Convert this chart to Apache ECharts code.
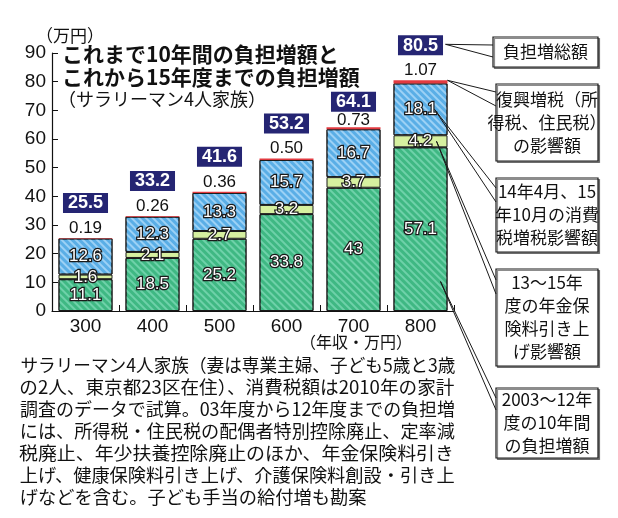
<!DOCTYPE html>
<html><head><meta charset="utf-8">
<script src="https://cdn.jsdelivr.net/npm/echarts@6/dist/echarts.min.js"></script>
<style>html,body{margin:0;padding:0;background:#fff}#c{width:618px;height:518px}</style>
</head><body><div id="c"></div>
<script>
const categories = ['300','400','500','600','700','800'];
const decade = [11.1, 18.5, 25.2, 33.8, 43, 57.1];
const pension = [1.6, 2.1, 2.7, 3.2, 3.7, 4.2];
const consumption = [12.6, 12.3, 13.3, 15.7, 16.7, 18.1];
const reconstruction = [0.19, 0.26, 0.36, 0.50, 0.73, 1.07];
const totals = [25.5, 33.2, 41.6, 53.2, 64.1, 80.5];
const tightLabel = [false, false, false, false, true, false];
const yMin = 0, yMax = 90, yInterval = 10;

const titleLines = ['これまで10年間の負担増額と', 'これから15年度までの負担増額'];
const subTitle = '（サラリーマン4人家族）';
const unitLabel = '（万円）';
const xName = '（年収・万円）';
const noteLines = [
  'サラリーマン4人家族（妻は専業主婦、子ども5歳と3歳',
  'の2人、東京都23区在住）、消費税額は2010年の家計',
  '調査のデータで試算。03年度から12年度までの負担増',
  'には、所得税・住民税の配偶者特別控除廃止、定率減',
  '税廃止、年少扶養控除廃止のほか、年金保険料引き',
  '上げ、健康保険料引き上げ、介護保険料創設・引き上',
  'げなどを含む。子ども手当の給付増も勘案'
];
const calloutTexts = [
  ['負担増総額'],
  ['復興増税（所', '得税、住民税）', 'の影響額'],
  ['14年4月、15', '年10月の消費', '税増税影響額'],
  ['13〜15年', '度の年金保', '険料引き上', 'げ影響額'],
  ['2003〜12年', '度の10年間', 'の負担増額']
];

const JP = '"Noto Sans CJK JP", sans-serif';
const NUM = '"Liberation Sans", Arial, sans-serif';

const chart = echarts.init(document.getElementById('c'));

const segLabel = {
  show: true, position: 'inside', color: '#fff', fontSize: 17, fontFamily: NUM,
  textBorderColor: '#1a1a1a', textBorderWidth: 2.5,
  formatter: p => String(p.value)
};
function hatch(color) {
  return { symbol: 'rect', symbolSize: 1, dashArrayX: [1, 0], dashArrayY: [2, 3], rotation: Math.PI / 4, color: color };
}
const boxStyle = { backgroundColor: '#252573', color: '#fff', fontSize: 18, fontWeight: 'bold', fontFamily: NUM,
                   height: 19, padding: [1, 5, 0, 5] };

chart.setOption({
  animation: false,
  backgroundColor: '#fff',
  grid: { left: 52, right: 164, top: 53, bottom: 207 },
  xAxis: {
    type: 'category', data: categories,
    axisLine: { lineStyle: { color: '#111', width: 1.2 } },
    axisTick: { show: true, inside: true, length: 6, interval: 0, lineStyle: { color: '#111' } },
    axisLabel: { color: '#111', fontSize: 19, fontFamily: NUM, margin: 6 }
  },
  yAxis: {
    type: 'value', min: yMin, max: yMax, interval: yInterval,
    axisLine: { show: true, lineStyle: { color: '#111', width: 1.2 } },
    axisTick: { show: true, inside: true, length: 6, lineStyle: { color: '#111' } },
    splitLine: { show: false },
    axisLabel: { color: '#111', fontSize: 19, fontFamily: NUM, margin: 6 }
  },
  series: [
    { name: '2003〜12年度の10年間の負担増額', type: 'bar', stack: 't', barWidth: 54, data: decade,
      itemStyle: { color: '#3fb883', borderColor: '#1a1a1a', borderWidth: 1, decal: hatch('rgba(150,230,200,0.55)') },
      label: segLabel },
    { name: '年金保険料', type: 'bar', stack: 't', data: pension,
      itemStyle: { color: '#d6f0a0', borderColor: '#1a1a1a', borderWidth: 1 },
      label: segLabel },
    { name: '消費税', type: 'bar', stack: 't', data: consumption,
      itemStyle: { color: '#5aaee6', borderColor: '#1a1a1a', borderWidth: 1, decal: hatch('rgba(200,232,255,0.6)') },
      label: segLabel },
    { name: '復興増税', type: 'bar', stack: 't', data: reconstruction,
      itemStyle: { color: '#e23a40' },
      label: {
        show: true, position: 'top', distance: 0,
        formatter: p => {
          const t = tightLabel[p.dataIndex];
          return '{' + (t ? 'boxT' : 'box') + '|' + totals[p.dataIndex].toFixed(1) + '}\n{' +
                 (t ? 'vT' : 'v') + '|' + p.value.toFixed(2) + '}';
        },
        rich: {
          box: Object.assign({ lineHeight: 30 }, boxStyle),
          boxT: Object.assign({ lineHeight: 23 }, boxStyle),
          v: { color: '#111', fontSize: 17, fontFamily: NUM, lineHeight: 20 },
          vT: { color: '#111', fontSize: 17, fontFamily: NUM, lineHeight: 14 }
        }
      } }
  ]
});

// ---- annotations ----
const g = [];
function txt(x, y, text, font, opt) {
  g.push(Object.assign({ type: 'text', x: x, y: y, silent: true,
    style: { text: text, font: font, fill: '#111', textAlign: 'left', textVerticalAlign: 'middle' } }, opt || {}));
}
txt(36, 36, unitLabel, '17px ' + JP);
txt(62, 54, titleLines[0], 'bold 21px ' + JP);
txt(62, 77, titleLines[1], 'bold 21px ' + JP);
txt(58, 99, subTitle, '18px ' + JP);
txt(300, 342, xName, '16px ' + JP);

// footnote, each line fitted to the column width
const ctx = document.createElement('canvas').getContext('2d');
const noteFont = '18px ' + JP;
ctx.font = noteFont;
let scales = [];
noteLines.forEach((ln, i) => {
  const w = ctx.measureText(ln).width;
  scales.push(435 / w);
});
const avgScale = scales.slice(0, 6).reduce((a, b) => a + b, 0) / 6;
noteLines.forEach((ln, i) => {
  const s = i < 6 ? scales[i] : avgScale;
  txt(20, 365 + i * 22, ln, noteFont, { scaleX: s, originX: 20, originY: 365 + i * 22 });
});

// callout boxes
const boxes = [
  { x: 493, y: 37, w: 105, h: 30 },
  { x: 496, y: 84, w: 102, h: 77 },
  { x: 496, y: 178, w: 102, h: 74 },
  { x: 496, y: 269, w: 102, h: 97 },
  { x: 496, y: 388, w: 102, h: 70 }
];
boxes.forEach((b, i) => {
  g.push({ type: 'rect', silent: true, shape: { x: b.x, y: b.y, width: b.w, height: b.h },
    style: { fill: '#fff', stroke: '#1a1a1a', lineWidth: 1.2, shadowColor: 'rgba(0,0,0,0.45)', shadowOffsetX: 1.5, shadowOffsetY: 1.5 } });
  const lines = calloutTexts[i];
  const lh = 23;
  const y0 = b.y + b.h / 2 - (lines.length - 1) * lh / 2;
  lines.forEach((ln, k) => {
    g.push({ type: 'text', x: b.x + b.w / 2, y: y0 + k * lh, silent: true,
      style: { text: ln, font: '17px ' + JP, fill: '#111', textAlign: 'center', textVerticalAlign: 'middle' } });
  });
});

// leader lines from the 800 bar
const last = categories.length - 1;
const px = v => chart.convertToPixel({ gridIndex: 0 }, [last, v]);
const topV = decade[last] + pension[last] + consumption[last] + reconstruction[last];
const pTop = px(topV);
const anchors = [
  [pTop[0] + 25, pTop[1] - 36],
  [pTop[0] + 27, pTop[1]],
  [pTop[0] + 14, px(decade[last] + pension[last] + consumption[last] / 2)[1]],
  [pTop[0] + 16, px(decade[last] + pension[last] / 2)[1]],
  [pTop[0] + 20, px(decade[last] * 0.18)[1]]
];
const entries = [[45, 57], [92, 106], [188, 202], [280, 294], [398, 410]];
anchors.forEach((a, i) => {
  const bx = boxes[i].x;
  entries[i].forEach(ey => {
    g.push({ type: 'line', silent: true, z: 100,
      shape: { x1: a[0], y1: a[1], x2: bx, y2: ey },
      style: { stroke: '#1a1a1a', lineWidth: 1 } });
  });
});

chart.setOption({ graphic: g });
</script></body></html>
